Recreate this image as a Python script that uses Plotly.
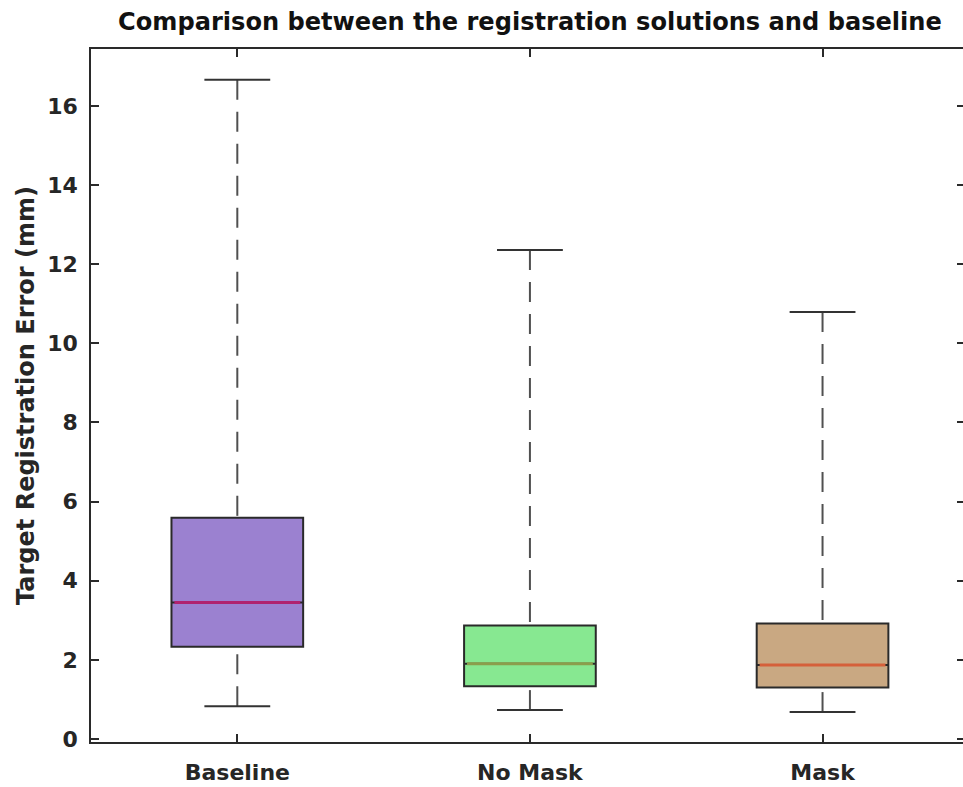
import plotly.graph_objects as go

# Summary statistics of the target registration error (mm) per method
categories = ["Baseline", "No Mask", "Mask"]
positions = [1, 2, 3]
upper_whisker = [16.66, 12.36, 10.79]
q3_values = [5.59, 2.87, 2.92]
median_values = [3.45, 1.90, 1.87]
q1_values = [2.33, 1.33, 1.30]
lower_whisker = [0.83, 0.73, 0.68]

y_ticks = [0, 2, 4, 6, 8, 10, 12, 14, 16]

fill_colors = ["#9b81d0", "#87e891", "#c9a882"]
median_colors = ["#b0226f", "#8b9e4c", "#d5603a"]

BOX_WIDTH = 0.45
CAP_HALF = BOX_WIDTH / 4
EDGE = "#2a2a2a"
FONT = "DejaVu Sans"
Y_RANGE = [-0.076, 17.44]

fig = go.Figure()

for pos, up, q3, med, q1, lo, fc, mc in zip(positions, upper_whisker, q3_values,
                                             median_values, q1_values, lower_whisker,
                                             fill_colors, median_colors):
    # dashed whiskers, drawn outward from the caps
    fig.add_trace(go.Scatter(x=[pos, pos], y=[up, q3], mode="lines",
                             line=dict(color="#505050", width=2, dash="20px,12px"),
                             hoverinfo="skip", showlegend=False))
    fig.add_trace(go.Scatter(x=[pos, pos], y=[lo, q1], mode="lines",
                             line=dict(color="#505050", width=2, dash="20px,12px"),
                             hoverinfo="skip", showlegend=False))
    # whisker caps
    for v in (up, lo):
        fig.add_trace(go.Scatter(x=[pos - CAP_HALF, pos + CAP_HALF], y=[v, v], mode="lines",
                                 line=dict(color="#333333", width=2),
                                 hoverinfo="skip", showlegend=False))
    # filled interquartile box
    fig.add_trace(go.Box(x=[pos], q1=[q1], median=[med], q3=[q3],
                         lowerfence=[q1], upperfence=[q3],
                         width=BOX_WIDTH, fillcolor=fc,
                         line=dict(color=EDGE, width=2),
                         hoverinfo="skip", showlegend=False))
    # coloured median line
    fig.add_trace(go.Scatter(x=[pos - BOX_WIDTH / 2 + 0.01, pos + BOX_WIDTH / 2 - 0.01],
                             y=[med, med], mode="lines",
                             line=dict(color=mc, width=3),
                             hoverinfo="skip", showlegend=False))

# invisible trace so the right-hand tick axis is laid out
fig.add_trace(go.Scatter(x=[positions[0]], y=[median_values[0]], yaxis="y2",
                         mode="markers", marker=dict(opacity=0),
                         hoverinfo="skip", showlegend=False))

fig.update_layout(
    width=963, height=787,
    margin=dict(l=91, r=0, t=49, b=45),
    paper_bgcolor="white", plot_bgcolor="white",
    font=dict(family=FONT, color="#262626"),
    title=dict(text="<b>Comparison between the registration solutions and baseline</b>",
               x=0.5034, xref="paper", xanchor="center",
               y=1 - 22 / 787, yref="container", yanchor="middle",
               font=dict(family=FONT, size=24.1, color="#111111")),
    xaxis=dict(range=[0.5, 3.48], tickmode="array", tickvals=positions,
               ticktext=[f"<b>{c}</b>" for c in categories],
               ticks="inside", ticklen=8, tickwidth=1.5, tickcolor=EDGE,
               showline=True, linecolor=EDGE, linewidth=1.5, mirror="ticks",
               showgrid=False, zeroline=False,
               tickfont=dict(family=FONT, size=22, color="#262626"),
               ticklabelstandoff=10),
    yaxis=dict(range=Y_RANGE, tickmode="array", tickvals=y_ticks,
               ticktext=[f"<b>{t}</b>" for t in y_ticks],
               ticks="inside", ticklen=8, tickwidth=1.5, tickcolor=EDGE,
               showline=True, linecolor=EDGE, linewidth=1.5, mirror=False,
               showgrid=False, zeroline=False,
               tickfont=dict(family=FONT, size=22, color="#262626"),
               ticklabelstandoff=7,
               title=dict(text="<b>Target Registration Error (mm)</b>",
                          font=dict(family=FONT, size=24, color="#262626"),
                          standoff=6)),
    yaxis2=dict(range=Y_RANGE, overlaying="y", side="right",
                tickmode="array", tickvals=y_ticks, showticklabels=False,
                ticks="inside", ticklen=6, tickwidth=1.5, tickcolor=EDGE,
                showline=False, showgrid=False, zeroline=False),
)

fig.write_html("out.html")
